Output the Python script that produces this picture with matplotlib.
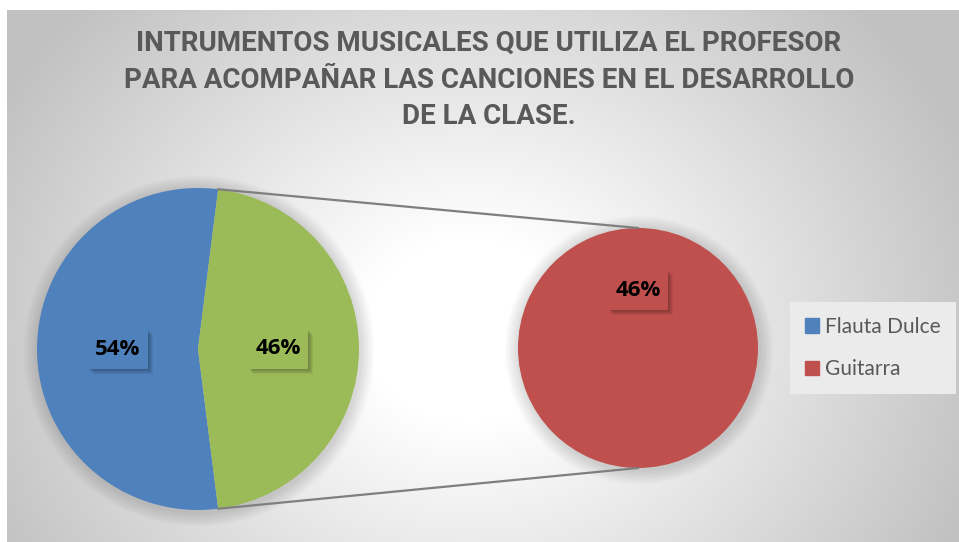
import numpy as np
import matplotlib.pyplot as plt
from matplotlib.patches import Rectangle, Circle, Patch

title = "INTRUMENTOS MUSICALES QUE UTILIZA EL PROFESOR\nPARA ACOMPAÑAR LAS CANCIONES EN EL DESARROLLO\nDE LA CLASE."
categories = ["Flauta Dulce", "Guitarra"]
shares = [54, 46]          # percent
colors = ["#4F81BD", "#C0504D"]
split_color = "#9BBB59"    # the guitar slice in the main pie

W, H = 959, 542
fig = plt.figure(figsize=(W / 100, H / 100), dpi=100)
ax = fig.add_axes([0, 0, 1, 1])

# radial gradient background (chart area)
yy, xx = np.mgrid[0:532, 7:959]
d = np.hypot((xx - 470) / 480, (yy - 320) / 420)
g = np.clip(1.0 - 0.27 * np.clip(d - 0.22, 0, None), 0.76, 1.0)
ax.imshow(np.dstack([g, g, g]), extent=[7, 959, 0, 532], origin="upper", zorder=0)

c1, r1 = (198, 193), 161
c2, r2 = (638, 194), 120

# soft shadows behind the pies
for c, r in [(c1, r1), (c2, r2)]:
    for k in range(1, 8):
        ax.add_patch(Circle((c[0] + 1, c[1] - 2), r + k * 2, color="k", alpha=0.02, lw=0, zorder=1))

half = shares[1] / 100 * 180
w1, t1, a1 = ax.pie(shares, colors=[colors[0], split_color], startangle=half, center=c1, radius=r1,
                    autopct=lambda p: f"{p:.0f}%", pctdistance=0.5,
                    wedgeprops=dict(linewidth=0, zorder=2))
w2, t2, a2 = ax.pie([shares[1]], colors=[colors[1]], startangle=-90, center=c2, radius=r2,
                    autopct=lambda p: f"{shares[1]}%", pctdistance=0.48,
                    wedgeprops=dict(linewidth=0, zorder=2))

# connector lines
th = np.deg2rad(half)
for s in (1, -1):
    p = (c1[0] + r1 * np.cos(th), c1[1] + s * r1 * np.sin(th))
    q = (c2[0], c2[1] + s * r2)
    ax.plot([p[0], q[0]], [p[1], q[1]], color="#7f7f7f", lw=1.6, zorder=3)

# data labels with shadowed boxes
for t, col in zip(list(a1) + list(a2), [colors[0], split_color, colors[1]]):
    x, y = t.get_position()
    for k in range(1, 6):
        ax.add_patch(Rectangle((x - 30 + k, y - 20 - k), 60, 40, color="k", alpha=0.06, lw=0, zorder=4))
    ax.add_patch(Rectangle((x - 30, y - 20), 60, 40, color=col, lw=0, zorder=5))
    t.set(fontsize=16, fontweight="bold", color="black", family="Open Sans", zorder=6)

ax.text(489, 542 - 80, title, ha="center", va="center", fontsize=20, fontweight="bold",
        color="#595959", family="Roboto", linespacing=1.45, zorder=6)

handles = [Patch(color=c) for c in colors]
leg = ax.legend(handles, categories, loc="center left", bbox_to_anchor=(790, 542 - 348),
                bbox_transform=ax.transData, frameon=True, fancybox=False, handlelength=0.7,
                handleheight=0.7, handletextpad=0.3, labelspacing=1.1, borderpad=0.7,
                borderaxespad=0, prop=dict(family="Lato", size=15))
leg.get_frame().set_facecolor("#ebebeb")
leg.get_frame().set_edgecolor("none")
leg.get_frame().set_alpha(1)
for txt in leg.get_texts():
    txt.set_color("#595959")

ax.set_xlim(0, W)
ax.set_ylim(0, H)
ax.set_aspect("equal")
ax.axis("off")
fig.savefig("out.png", dpi=100, facecolor="white")
